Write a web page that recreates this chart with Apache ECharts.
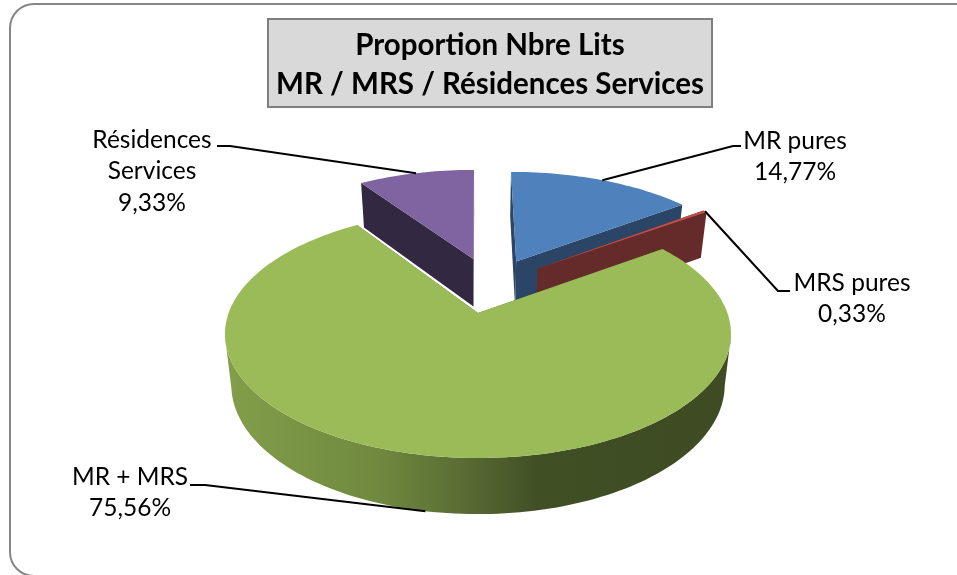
<!DOCTYPE html>
<html>
<head>
<meta charset="utf-8">
<style>
html, body { margin: 0; padding: 0; background: #fff; }
#main { width: 957px; height: 575px; }
</style>
<script src="https://cdn.jsdelivr.net/npm/echarts@6/dist/echarts.min.js"></script>
</head>
<body>
<div id="main"></div>
<script>
// data
var categories = ['MR pures', 'MRS pures', 'MR + MRS', 'Résidences Services'];
var values = [14.77, 0.33, 75.56, 9.33];
var titleLines = ['Proportion Nbre Lits', 'MR / MRS / Résidences Services'];

// look of each slice
var topColors = ['#4F81BD', '#C0504D', '#9BBB59', '#8064A2'];
var wallColors = ['#2A4565', '#652B2A', '#4F6A2C', '#332842'];
var explode = [[0.165, 0.46], [0.255, 0.394], [0, 0], [-0.02, 0.486]]; // pull-out of each slice, in pie radii
var drawOrder = [3, 0, 1, 2]; // back to front

// label layout: centre of text, then leader elbow points
var labelLines = [['MR pures'], ['MRS pures'], ['MR + MRS'], ['Résidences', 'Services']];
var labelPos = [[795, 141], [852, 283], [130, 477], [152, 140]];
var elbows = [[[741, 146], [733, 146]], [[790, 291], [778, 291]], [[190, 485], [205, 485]], [[217, 146], [230, 146]]];

// perspective projection of the pie plane
var cx = 478, cy = 313, A = 249.4, B = 120.5, k = 0.169;
function project(u, v, down) {
    var w = 1 + k * v;
    var shrink = down ? 0.975 : 1; // bottom plane sits further from the eye
    return [cx + shrink * A * u / w, cy - B * v / w + (down ? 20 + 30 / w : 0)];
}

var total = values.reduce(function (a, b) { return a + b; }, 0);
var starts = [];
var acc = 0;
values.forEach(function (val) {
    starts.push(acc / total * Math.PI * 2);
    acc += val;
});
function sweep(i) { return values[i] / total * Math.PI * 2; }

function rim(i, a, down) { // point of slice i's outer edge at angle a
    return project(explode[i][0] + Math.sin(a), explode[i][1] + Math.cos(a), down);
}
function arc(i, down, frontOnly) {
    var pts = [];
    var n = Math.max(2, Math.ceil(sweep(i) * 40));
    for (var s = 0; s <= n; s++) {
        var a = starts[i] + sweep(i) * s / n;
        if (frontOnly && Math.cos(a) > -k) continue; // past the widest point the wall is hidden
        pts.push(rim(i, a, down));
    }
    return pts;
}
function poly(points, fill) {
    return { type: 'polygon', shape: { points: points }, style: { fill: fill } };
}

function renderSlice(params, api) {
    var i = api.value(0);
    var apex = project(explode[i][0], explode[i][1], false);
    var apexDown = project(explode[i][0], explode[i][1], true);
    var top = arc(i, false);
    var bottom = arc(i, true);
    var last = top.length - 1;
    var children = [];
    // side cuts
    children.push(poly([apex, top[0], bottom[0], apexDown], wallColors[i]));
    children.push(poly([apex, top[last], bottom[last], apexDown], wallColors[i]));
    // outer wall, only the big front slice shows it
    if (i === 2) {
        var frontTop = arc(i, false, true);
        var frontBottom = arc(i, true, true).reverse();
        children.push(poly(frontTop.concat(frontBottom), new echarts.graphic.LinearGradient(0, 0, 1, 0, [
            { offset: 0, color: '#829E4A' },
            { offset: 0.3, color: '#70893F' },
            { offset: 0.45, color: '#5C7036' },
            { offset: 0.62, color: '#414F25' },
            { offset: 1, color: '#3E4B23' }
        ])));
    }
    children.push(poly([apex].concat(top), topColors[i]));
    return { type: 'group', children: children };
}

function renderLabel(params, api) {
    var i = api.value(0);
    var mid = starts[i] + sweep(i) / 2;
    var anchor = rim(i, mid, i === 2); // front slice's leader lands on the bottom of its wall
    var pts = elbows[i].concat([anchor]);
    var txt = labelLines[i].concat([values[i].toFixed(2).replace('.', ',') + '%']).join('\n');
    return {
        type: 'group',
        children: [
            { type: 'polyline', shape: { points: pts }, style: { stroke: '#000', lineWidth: 2, fill: null } },
            {
                type: 'text',
                x: labelPos[i][0],
                y: labelPos[i][1] - 16,
                style: {
                    text: txt,
                    fill: '#000',
                    font: '24.5px Lato',
                    lineHeight: 31.5,
                    align: 'center',
                    verticalAlign: 'top'
                }
            }
        ]
    };
}

var myChart = echarts.init(document.getElementById('main'));
var option = {
    animation: false,
    backgroundColor: '#fff',
    title: {
        text: titleLines.join('\n'),
        left: 482,
        top: 19,
        padding: [7, 8, 3, 8],
        backgroundColor: '#D9D9D9',
        borderColor: '#7F7F7F',
        borderWidth: 2,
        textAlign: 'center',
        textStyle: { fontFamily: 'Lato', fontSize: 29.5, fontWeight: 'bold', color: '#000', lineHeight: 39 }
    },
    graphic: [{
        type: 'rect',
        silent: true,
        shape: { x: 10, y: 4, width: 1000, height: 572, r: 24 },
        style: { fill: '#fff', stroke: '#868686', lineWidth: 2 },
        z: -1
    }],
    series: [
        {
            type: 'custom',
            coordinateSystem: 'none',
            silent: true,
            data: drawOrder.map(function (i) { return [i, values[i]]; }),
            renderItem: renderSlice
        },
        {
            type: 'custom',
            coordinateSystem: 'none',
            silent: true,
            z: 3,
            data: categories.map(function (c, i) { return [i, values[i], c]; }),
            encode: { tooltip: 1 },
            renderItem: renderLabel
        }
    ]
};
myChart.setOption(option);
</script>
</body>
</html>
